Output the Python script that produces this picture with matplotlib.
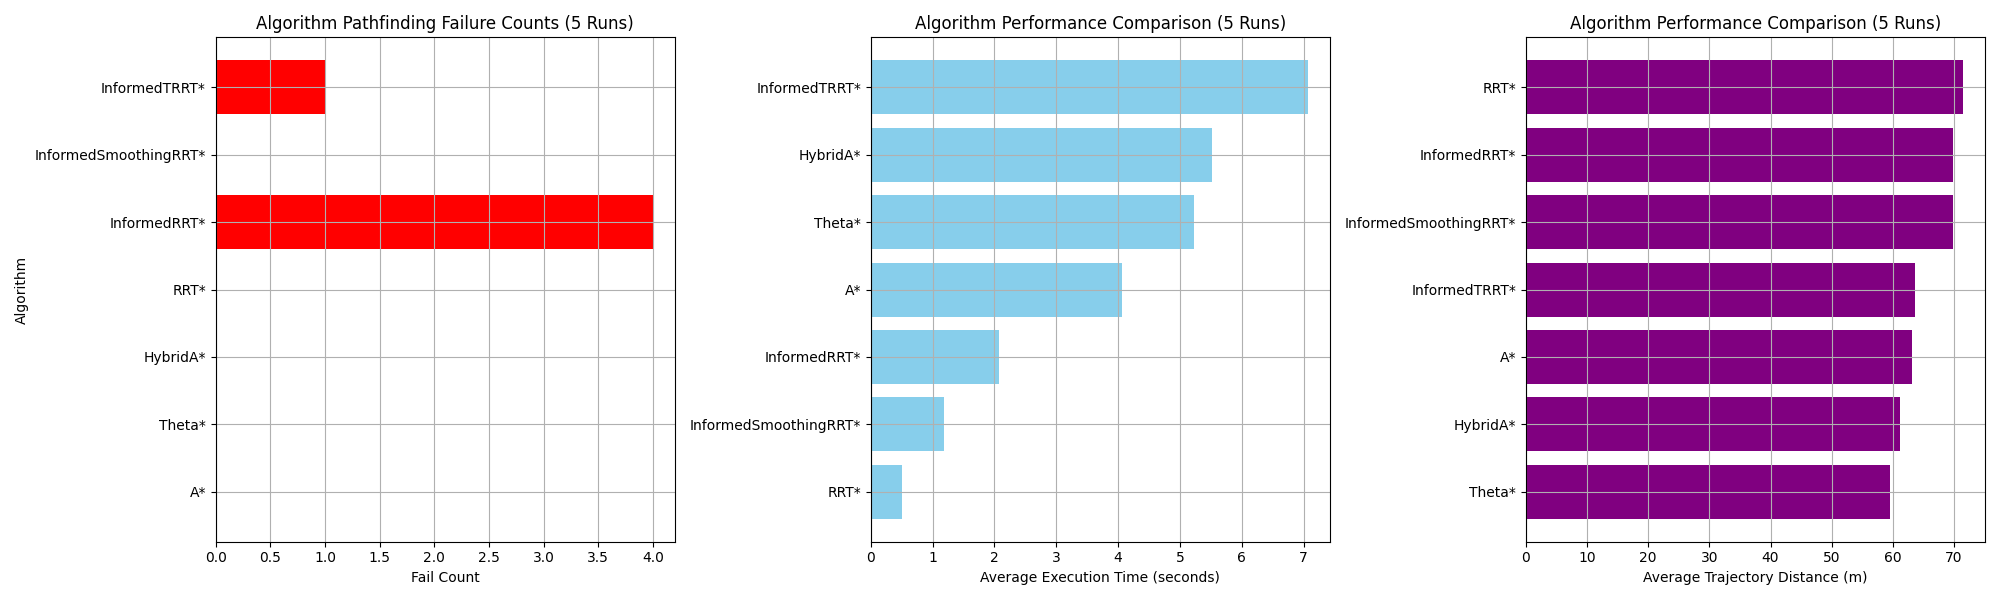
import matplotlib
matplotlib.use('Agg')
import matplotlib.pyplot as plt

fail_algos = ['A*', 'Theta*', 'HybridA*', 'RRT*', 'InformedRRT*', 'InformedSmoothingRRT*', 'InformedTRRT*']
fail_counts = [0, 0, 0, 0, 4, 0, 1]

time_algos = ['RRT*', 'InformedSmoothingRRT*', 'InformedRRT*', 'A*', 'Theta*', 'HybridA*', 'InformedTRRT*']
exec_times = [0.5, 1.18, 2.08, 4.07, 5.22, 5.52, 7.07]

dist_algos = ['Theta*', 'HybridA*', 'A*', 'InformedTRRT*', 'InformedSmoothingRRT*', 'InformedRRT*', 'RRT*']
distances = [59.5, 61.2, 63.1, 63.7, 69.8, 69.8, 71.5]

fig, axes = plt.subplots(1, 3, figsize=(20, 6), dpi=100)

ax = axes[0]
ax.barh(fail_algos, fail_counts, color='red')
ax.set_xlabel('Fail Count')
ax.set_ylabel('Algorithm')
ax.set_title('Algorithm Pathfinding Failure Counts (5 Runs)')
ax.grid(True)

ax = axes[1]
ax.barh(time_algos, exec_times, color='skyblue')
ax.set_xlabel('Average Execution Time (seconds)')
ax.set_title('Algorithm Performance Comparison (5 Runs)')
ax.grid(True)

ax = axes[2]
ax.barh(dist_algos, distances, color='purple')
ax.set_xlabel('Average Trajectory Distance (m)')
ax.set_title('Algorithm Performance Comparison (5 Runs)')
ax.grid(True)

plt.tight_layout()
plt.savefig('out.png')
